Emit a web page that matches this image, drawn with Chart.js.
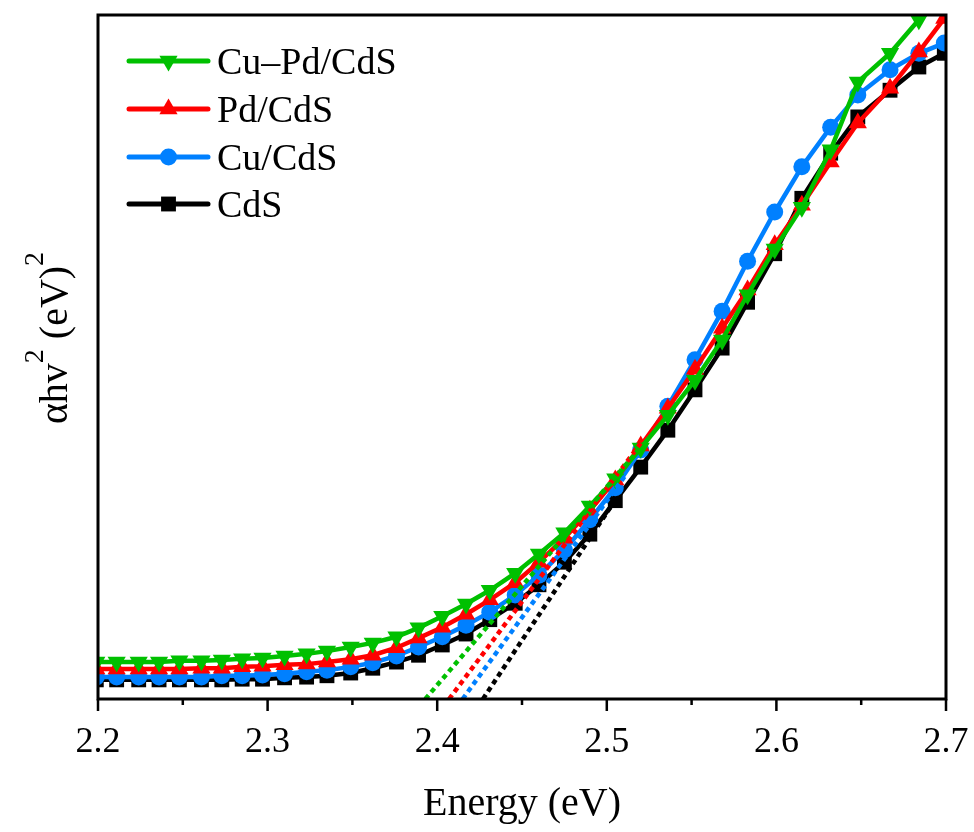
<!DOCTYPE html>
<html>
<head>
<meta charset="utf-8">
<script src="https://cdn.jsdelivr.net/npm/chart.js@4.4.1/dist/chart.umd.min.js"></script>
<style>
  html, body { margin: 0; padding: 0; background: #fff; }
  canvas { display: block; }
</style>
</head>
<body>
<canvas id="taucChart" width="974" height="832"></canvas>
<script>
// photon energy (eV)
const energy = [2.199, 2.211, 2.224, 2.236, 2.248, 2.261, 2.273, 2.285, 2.297, 2.310, 2.323, 2.335,
                2.349, 2.362, 2.376, 2.389, 2.403, 2.417, 2.431, 2.446, 2.460, 2.475, 2.490, 2.505,
                2.520, 2.536, 2.552, 2.568, 2.583, 2.599, 2.615, 2.632, 2.648, 2.667, 2.684, 2.699];

// (αhν)² in arbitrary units (0 = bottom of frame, 100 = top)
const cuPdCdS = [5.4, 5.4, 5.4, 5.4, 5.6, 5.6, 5.7, 5.9, 6.0, 6.3, 6.6, 7.0,
                 7.6, 8.2, 9.1, 10.4, 12.1, 13.9, 15.9, 18.4, 21.2, 24.3, 28.2, 32.2,
                 36.7, 41.5, 46.6, 52.5, 59.1, 65.8, 71.9, 80.3, 90.2, 94.4, 99.3, 103.7];
const pdCdS   = [4.4, 4.4, 4.4, 4.4, 4.4, 4.5, 4.5, 4.7, 4.8, 5.0, 5.1, 5.4,
                 5.8, 6.4, 7.5, 8.9, 10.5, 12.4, 14.5, 17.0, 20.0, 23.5, 27.6, 32.0,
                 37.0, 42.5, 48.2, 54.2, 59.8, 66.4, 72.2, 78.5, 84.2, 89.3, 94.6, 99.5];
const cuCdS   = [3.2, 3.2, 3.2, 3.2, 3.2, 3.2, 3.4, 3.4, 3.5, 3.7, 4.0, 4.2,
                 4.7, 5.3, 6.3, 7.6, 9.1, 10.8, 12.7, 15.2, 18.1, 21.8, 26.2, 30.9,
                 36.4, 42.8, 49.6, 56.7, 64.0, 71.2, 77.8, 83.6, 88.3, 92.0, 94.4, 95.9];
const cdS     = [2.8, 2.8, 2.8, 2.8, 2.8, 2.8, 2.8, 2.9, 2.9, 3.1, 3.2, 3.4,
                 3.8, 4.5, 5.4, 6.4, 7.9, 9.5, 11.6, 14.0, 16.7, 20.0, 24.1, 29.0,
                 33.9, 39.3, 45.2, 51.3, 58.0, 65.1, 73.2, 79.8, 85.1, 89.0, 92.4, 94.4];

// linear extrapolations to the energy axis: [start, end] as [energy, value]
const fitCuPdCdS = [[2.393, 0], [2.520, 36.8]];
const fitPdCdS   = [[2.407, 0], [2.520, 37.4]];
const fitCuCdS   = [[2.415, 0], [2.511, 32.7]];
const fitCdS     = [[2.427, 0], [2.505, 29.1]];

const seriesLabels = ['Cu\u2013Pd/CdS', 'Pd/CdS', 'Cu/CdS', 'CdS'];
const seriesColors = ['#00c000', '#ff0000', '#0080ff', '#000000'];
const xMajorTicks = [2.2, 2.3, 2.4, 2.5, 2.6, 2.7];
const xMinorTicks = [2.25, 2.35, 2.45, 2.55, 2.65];

const FONT = "'Liberation Serif', 'Times New Roman', serif";

function toPoints(xs, ys) {
    return xs.map((x, i) => ({ x: x, y: ys[i] }));
}

function curve(label, values, color, style, rotation, radius, order) {
    return {
        label: label,
        data: toPoints(energy, values),
        borderColor: color,
        backgroundColor: color,
        borderWidth: 4.5,
        pointStyle: style,
        rotation: rotation,
        pointRadius: radius,
        pointBorderWidth: 0,
        pointHoverRadius: radius,
        tension: 0,
        clip: 0,
        order: order,
        inLegend: true
    };
}

function fitLine(points, color) {
    return {
        label: 'fit',
        data: points.map(p => ({ x: p[0], y: p[1] })),
        borderColor: color,
        borderWidth: 4.5,
        borderDash: [5, 4],
        pointRadius: 0,
        tension: 0,
        clip: 0,
        order: 0,
        inLegend: false
    };
}

const frameAndText = {
    id: 'frameAndText',
    afterDraw(chart) {
        const ctx = chart.ctx;
        const area = chart.chartArea;
        const xScale = chart.scales.x;

        ctx.save();
        // frame
        ctx.strokeStyle = '#000';
        ctx.lineWidth = 3;
        ctx.strokeRect(area.left, area.top, area.right - area.left, area.bottom - area.top);

        // ticks on the energy axis
        ctx.lineWidth = 2.5;
        ctx.beginPath();
        xMajorTicks.forEach(v => {
            const px = xScale.getPixelForValue(v);
            ctx.moveTo(px, area.bottom);
            ctx.lineTo(px, area.bottom + 12);
        });
        xMinorTicks.forEach(v => {
            const px = xScale.getPixelForValue(v);
            ctx.moveTo(px, area.bottom);
            ctx.lineTo(px, area.bottom + 6);
        });
        ctx.stroke();

        // x title
        ctx.fillStyle = '#000';
        ctx.font = '40px ' + FONT;
        ctx.textAlign = 'center';
        ctx.textBaseline = 'alphabetic';
        ctx.fillText('Energy (eV)', (area.left + area.right) / 2, 815);

        // y title with superscripts
        const parts = [
            { t: '\u03b1hv', size: 40, rise: 0 },
            { t: '2', size: 28, rise: 24 },
            { t: ' (eV)', size: 40, rise: 0 },
            { t: '2', size: 28, rise: 24 }
        ];
        let total = 0;
        parts.forEach(p => {
            ctx.font = p.size + 'px ' + FONT;
            p.w = ctx.measureText(p.t).width;
            total += p.w;
        });
        ctx.translate(67, 338);
        ctx.rotate(-Math.PI / 2);
        ctx.textAlign = 'left';
        let cx = -total / 2;
        parts.forEach(p => {
            ctx.font = p.size + 'px ' + FONT;
            ctx.fillText(p.t, cx, -p.rise);
            cx += p.w;
        });
        ctx.restore();

        // legend inside the frame
        ctx.save();
        const rows = [61, 109, 157, 204];
        const shown = chart.data.datasets.filter(d => d.inLegend);
        shown.forEach((ds, i) => {
            const y = rows[i];
            ctx.strokeStyle = ds.borderColor;
            ctx.fillStyle = ds.borderColor;
            ctx.lineWidth = 5;
            ctx.lineCap = 'round';
            ctx.beginPath();
            ctx.moveTo(129, y);
            ctx.lineTo(208, y);
            ctx.stroke();
            Chart.helpers.drawPoint(ctx, {
                pointStyle: ds.pointStyle,
                rotation: ds.rotation,
                radius: ds.pointRadius,
                borderWidth: 0
            }, 168.5, y);
            ctx.fillStyle = '#000';
            ctx.font = '38px ' + FONT;
            ctx.textAlign = 'left';
            ctx.textBaseline = 'alphabetic';
            ctx.fillText(ds.label, 217, y + 13);
        });
        ctx.restore();
    }
};

new Chart(document.getElementById('taucChart'), {
    type: 'line',
    data: {
        datasets: [
            fitLine(fitCuPdCdS, seriesColors[0]),
            fitLine(fitPdCdS, seriesColors[1]),
            fitLine(fitCuCdS, seriesColors[2]),
            fitLine(fitCdS, seriesColors[3]),
            curve(seriesLabels[0], cuPdCdS, seriesColors[0], 'triangle', 180, 10.5, 1),
            curve(seriesLabels[1], pdCdS, seriesColors[1], 'triangle', 0, 10.5, 2),
            curve(seriesLabels[2], cuCdS, seriesColors[2], 'circle', 0, 8.5, 3),
            curve(seriesLabels[3], cdS, seriesColors[3], 'rect', 0, 10.5, 4)
        ]
    },
    options: {
        responsive: false,
        devicePixelRatio: 1,
        animation: false,
        layout: { padding: { left: 98, right: 28, top: 15, bottom: 0 } },
        plugins: {
            legend: { display: false },
            tooltip: { enabled: false }
        },
        scales: {
            x: {
                type: 'linear',
                min: 2.2,
                max: 2.7,
                afterFit(scale) {
                    scale.height = 133;
                    scale.paddingLeft = 0;
                    scale.paddingRight = 0;
                },
                afterBuildTicks(scale) { scale.ticks = xMajorTicks.map(v => ({ value: v })); },
                grid: { display: false, drawTicks: false, tickLength: 0 },
                border: { display: false },
                ticks: {
                    autoSkip: false,
                    maxRotation: 0,
                    padding: 22,
                    color: '#000',
                    font: { family: FONT, size: 36 },
                    callback: v => v.toFixed(1)
                }
            },
            y: {
                display: false,
                min: 0,
                max: 100
            }
        }
    },
    plugins: [frameAndText]
});
</script>
</body>
</html>
